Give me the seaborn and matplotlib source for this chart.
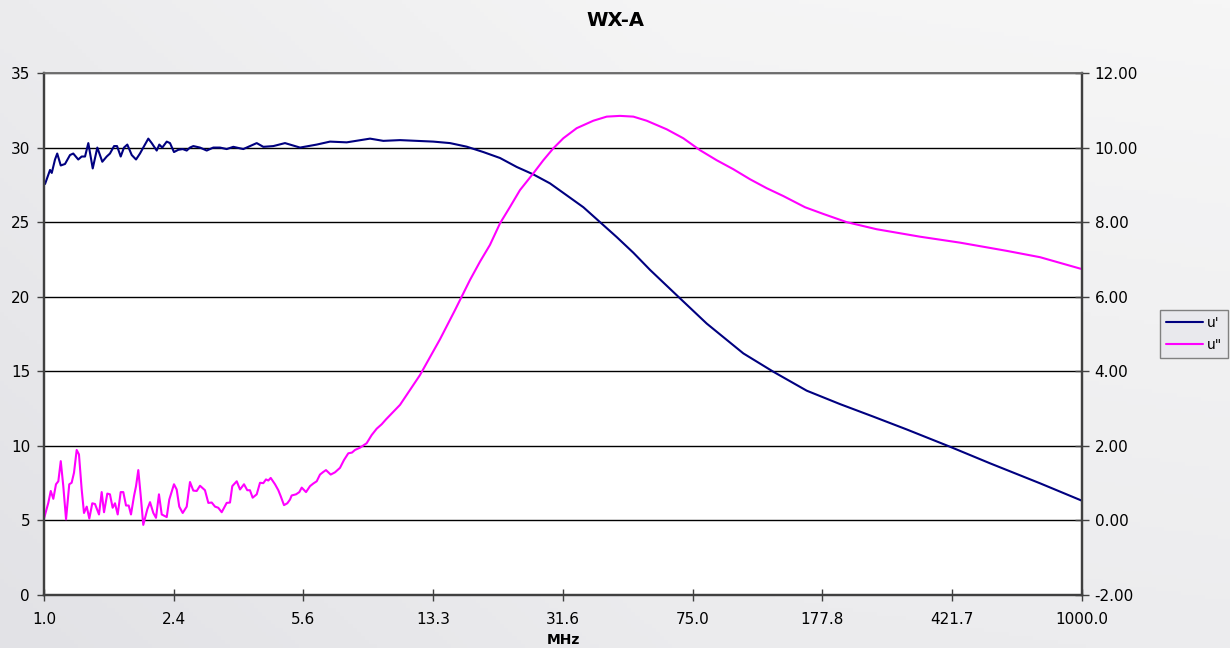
import matplotlib
matplotlib.use("Agg")
import matplotlib.pyplot as plt
import matplotlib.ticker as mticker
import seaborn as sns
import numpy as np
import pandas as pd

# u' (left axis)
u1_mhz = [1.007, 1.041, 1.053, 1.076, 1.092, 1.118, 1.150, 1.189, 1.215, 1.256,
          1.285, 1.314, 1.343, 1.383, 1.426, 1.474, 1.518, 1.551, 1.594, 1.626,
          1.666, 1.703, 1.741, 1.793, 1.845, 1.894, 1.936, 2.002, 2.048, 2.117,
          2.154, 2.197, 2.263, 2.313, 2.375, 2.444, 2.517, 2.585, 2.642, 2.701,
          2.824, 2.953, 3.085, 3.226, 3.373, 3.525, 3.767, 4.119, 4.304, 4.600,
          4.972, 5.495, 6.140, 6.709, 7.497, 8.755, 9.564, 10.69, 13.34, 14.91,
          16.66, 18.61, 20.80, 23.24, 25.96, 29.00, 32.41, 36.21, 40.46, 45.21,
          50.50, 56.43, 68.11, 82.29, 105.0, 128.2, 160.1, 199.8, 249.4, 311.5,
          415.6, 542.2, 756.2, 1000.0]
u1_val = [27.56, 28.5, 28.3, 29.2, 29.6, 28.8, 28.9, 29.5, 29.6, 29.2,
          29.4, 29.4, 30.3, 28.6, 30.0, 29.05, 29.4, 29.6, 30.1, 30.1,
          29.4, 30.0, 30.2, 29.5, 29.2, 29.6, 30.0, 30.6, 30.3, 29.8,
          30.2, 30.0, 30.4, 30.3, 29.7, 29.85, 29.9, 29.8, 30.0, 30.1,
          30.0, 29.8, 30.0, 30.0, 29.9, 30.05, 29.9, 30.3, 30.05, 30.1,
          30.3, 30.0, 30.2, 30.4, 30.35, 30.6, 30.45, 30.5, 30.4, 30.3,
          30.06, 29.7, 29.3, 28.7, 28.2, 27.6, 26.8, 26.0, 25.0, 24.0,
          22.95, 21.8, 20.0, 18.2, 16.2, 14.97, 13.7, 12.8, 11.96, 11.1,
          9.94, 8.83, 7.49, 6.32]

# u" (right axis)
u2_mhz = [1.000, 1.029, 1.046, 1.064, 1.083, 1.100, 1.118, 1.137, 1.158, 1.183,
          1.202, 1.221, 1.243, 1.262, 1.285, 1.305, 1.329, 1.352, 1.379, 1.404,
          1.442, 1.468, 1.491, 1.524, 1.551, 1.579, 1.604, 1.633, 1.666, 1.695,
          1.726, 1.757, 1.784, 1.820, 1.845, 1.873, 1.904, 1.936, 1.989, 2.025,
          2.070, 2.107, 2.149, 2.189, 2.263, 2.302, 2.375, 2.418, 2.460, 2.517,
          2.585, 2.642, 2.701, 2.763, 2.824, 2.919, 2.985, 3.053, 3.121, 3.189,
          3.263, 3.373, 3.448, 3.501, 3.606, 3.686, 3.785, 3.868, 3.937, 4.009,
          4.119, 4.210, 4.304, 4.381, 4.449, 4.521, 4.652, 4.756, 4.832, 4.939,
          5.049, 5.140, 5.198, 5.351, 5.469, 5.557, 5.719, 5.873, 6.003, 6.140,
          6.276, 6.414, 6.531, 6.739, 6.934, 7.169, 7.362, 7.576, 7.765, 7.921,
          8.187, 8.369, 8.56, 8.852, 9.152, 9.463, 9.737, 10.69, 12.21, 13.95,
          15.41, 17.03, 18.20, 19.45, 20.80, 22.23, 23.75, 25.96, 27.74, 29.65,
          31.69, 34.64, 38.69, 42.30, 46.22, 50.50, 55.20, 63.06, 70.41, 78.70,
          87.96, 98.22, 109.8, 122.7, 137.0, 158.3, 178.8, 208.9, 255.0, 340.2,
          444.1, 605.9, 756.2, 1000.0]
u2_val = [0.05, 0.47, 0.79, 0.58, 0.97, 1.05, 1.59, 0.92, 0.03, 0.97,
          1.01, 1.28, 1.89, 1.77, 0.83, 0.2, 0.37, 0.05, 0.46, 0.44,
          0.16, 0.76, 0.22, 0.72, 0.70, 0.34, 0.46, 0.16, 0.76, 0.76,
          0.40, 0.40, 0.16, 0.65, 0.92, 1.35, 0.65, -0.12, 0.30, 0.49,
          0.2, 0.07, 0.70, 0.16, 0.09, 0.56, 0.97, 0.83, 0.37, 0.2,
          0.37, 1.03, 0.80, 0.79, 0.93, 0.81, 0.47, 0.48, 0.37, 0.34,
          0.22, 0.47, 0.48, 0.92, 1.05, 0.83, 0.97, 0.81, 0.81, 0.61,
          0.70, 1.01, 1.0, 1.1, 1.07, 1.14, 0.97, 0.81, 0.65, 0.41,
          0.46, 0.56, 0.67, 0.70, 0.76, 0.88, 0.76, 0.92, 0.99, 1.05,
          1.23, 1.3, 1.35, 1.23, 1.29, 1.41, 1.62, 1.80, 1.82, 1.89,
          1.95, 2.01, 2.07, 2.29, 2.46, 2.58, 2.71, 3.1, 3.9, 4.86,
          5.64, 6.45, 6.94, 7.39, 7.97, 8.41, 8.86, 9.31, 9.66, 9.98,
          10.25, 10.52, 10.72, 10.83, 10.85, 10.83, 10.72, 10.49, 10.25, 9.93,
          9.66, 9.42, 9.15, 8.91, 8.70, 8.40, 8.22, 8.0, 7.81, 7.61,
          7.45, 7.23, 7.06, 6.74]

x_ticks = [1.0, 2.371, 5.623, 13.34, 31.62, 74.99, 177.8, 421.7, 1000.0]
left_ticks = [0, 5, 10, 15, 20, 25, 30, 35]
right_ticks = [-2, 0, 2, 4, 6, 8, 10, 12]

df1 = pd.DataFrame({'MHz': u1_mhz, 'val': u1_val})
df2 = pd.DataFrame({'MHz': u2_mhz, 'val': u2_val})

sns.set_style("white")
plt.rcParams['font.family'] = ['DejaVu Sans']
plt.rcParams['text.color'] = 'black'

bg = '#e9e9ed'
fig = plt.figure(figsize=(12.3, 6.48), dpi=100, facecolor=bg)

# soft background gradient
bgax = fig.add_axes([0, 0, 1, 1], zorder=-10)
gx, gy = np.meshgrid(np.linspace(0, 1, 300), np.linspace(0, 1, 160))
grad = 0.5 * gx + 0.5 * gy - 0.35 * np.abs(gx - 0.55)
bgax.imshow(grad, cmap=matplotlib.colors.LinearSegmentedColormap.from_list(
    'bg', ['#e2e2e6', '#f6f6f6']), aspect='auto', origin='lower', extent=[0, 1, 0, 1])
bgax.axis('off')

ax = fig.add_axes([44 / 1230, 1 - 595 / 648, (1082 - 44) / 1230, (595 - 73) / 648])
ax.set_facecolor('white')

sns.lineplot(data=df1, x='MHz', y='val', ax=ax, color='#000080', linewidth=1.5,
             label="u'", legend=False)
ax.set_xscale('log')
ax.set_xlim(1, 1000)
ax.set_ylim(0, 35)
ax.set_yticks(left_ticks)
ax.set_xticks(x_ticks)
ax.xaxis.set_major_formatter(mticker.FuncFormatter(lambda v, p: f'{v:.1f}'))
ax.xaxis.set_minor_locator(mticker.NullLocator())
ax.grid(axis='y', color='black', linewidth=1.0)
ax.set_axisbelow(True)

ax2 = ax.twinx()
sns.lineplot(data=df2, x='MHz', y='val', ax=ax2, color='#ff00ff', linewidth=1.5,
             label='u"', legend=False)
ax2.set_ylim(-2, 12)
ax2.set_yticks(right_ticks)
ax2.yaxis.set_major_formatter(mticker.FormatStrFormatter('%.2f'))
ax2.set_xlim(1, 1000)
ax2.xaxis.set_minor_locator(mticker.NullLocator())
ax2.set_ylabel('')

for a in (ax, ax2):
    for s in ['left', 'right', 'bottom']:
        a.spines[s].set_color('#404040')
        a.spines[s].set_linewidth(1.6)
    a.spines['top'].set_color('#707070')
    a.spines['top'].set_linewidth(1.2)

ax.tick_params(axis='y', direction='out', length=5, width=1, color='#404040',
               labelsize=11, pad=5, left=True, labelcolor='black')
ax.tick_params(axis='x', direction='inout', length=8, width=1, color='#404040',
               labelsize=11, pad=8, bottom=True, labelcolor='black')
ax2.tick_params(axis='y', direction='inout', length=10, width=1, color='#404040',
                labelsize=11, pad=4, right=True, labelcolor='black')

ax.set_ylabel('')
ax.set_xlabel('')
fig.text(563 / 1230, 1 - 640 / 648, 'MHz', ha='center', va='center',
         fontsize=10, fontweight='bold', color='black')
fig.text(0.5, 1 - 21 / 648, 'WX-A', ha='center', va='center',
         fontsize=14, fontweight='bold', color='black')

handles = ax.get_lines()[:1] + ax2.get_lines()[:1]
leg = fig.legend(handles, ["u'", 'u"'], loc='center left',
                 bbox_to_anchor=(1160 / 1230, 1 - 334 / 648), fontsize=10,
                 frameon=True, fancybox=False, edgecolor='#808080',
                 facecolor=bg, framealpha=1, handlelength=2.7,
                 handletextpad=0.3, borderpad=0.4, labelspacing=0.6,
                 borderaxespad=0)
leg.get_frame().set_linewidth(1.0)
for t in leg.get_texts():
    t.set_color('black')

fig.savefig('out.png', dpi=100, facecolor=fig.get_facecolor())
